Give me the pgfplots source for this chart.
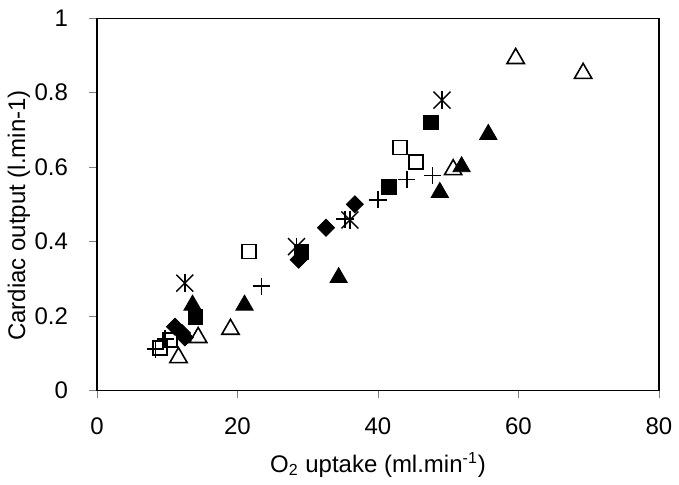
\documentclass[border=0pt]{standalone}
\usepackage{pgfplots}
\pgfplotsset{compat=1.18}
\usepackage{fontspec}
\setmainfont{Liberation Sans}
\begin{document}
\begin{tikzpicture}
\begin{axis}[
    scale only axis,
    width=281pt, height=186pt,
    xmin=0, xmax=80, ymin=0, ymax=1,
    xtick={0,20,40,60,80},
    ytick={0,0.2,0.4,0.6,0.8,1},
    xtick pos=lower, ytick pos=left,
    tick align=outside,
    major tick length=4pt,
    tick style={gray, line width=0.4pt},
    axis line style={line width=0.75pt},
    font=\fontsize{12}{14}\selectfont,
    /pgf/number format/assume math mode=true,
    xticklabel style={yshift=-6pt},
    yticklabel style={xshift=-7pt},
    xlabel={O\textsubscript{2} uptake (ml.min\textsuperscript{-1})},
    ylabel={Cardiac output (l.min-1)},
    xlabel style={at={(axis description cs:0.5,-0.2)}, anchor=center},
    ylabel style={at={(axis description cs:-0.139,0.47)}, anchor=center},
    clip=false,
]
% filled diamonds
\addplot[only marks, mark=square*, mark size=3pt, mark options={rotate=45, fill=black, draw=black}] coordinates {
    (11.1,0.171) (12.1,0.154) (12.5,0.142) (28.7,0.351) (32.6,0.437) (36.7,0.500)
};
% filled squares
\addplot[only marks, mark=square*, mark size=3.7pt, mark options={fill=black, draw=black}] coordinates {
    (14.0,0.198) (29.1,0.373) (41.6,0.546) (47.5,0.720)
};
% filled triangles
\addplot[only marks, mark=triangle*, mark size=5pt, mark options={fill=black, draw=black, yshift=-1.3pt}] coordinates {
    (13.6,0.236) (21.0,0.236) (34.4,0.310) (48.8,0.539) (51.9,0.608) (55.7,0.695)
};
% open squares
\addplot[only marks, mark=square, mark size=3.5pt, mark options={draw=black, fill=white, line width=0.8pt}] coordinates {
    (9.0,0.113) (10.4,0.136) (21.6,0.373) (43.1,0.653) (45.4,0.613)
};
% open triangles
\addplot[only marks, mark=triangle, mark size=5pt, mark options={draw=black, fill=white, line width=0.8pt, yshift=-1.3pt}] coordinates {
    (11.6,0.095) (14.4,0.149) (19.0,0.171) (50.7,0.600) (59.6,0.899) (69.2,0.859)
};
% plus
\addplot[only marks, mark=+, mark size=4.3pt, mark options={draw=black, line width=0.7pt}] coordinates {
    (8.3,0.111) (9.7,0.138) (23.4,0.280) (35.3,0.460) (40.0,0.512) (44.1,0.566) (47.8,0.577)
};
% stars (x with vertical bar)
\addplot[only marks, mark=x, mark size=6pt, mark options={draw=black, line width=0.7pt}] coordinates {
    (12.5,0.288) (28.4,0.386) (36.0,0.458) (49.1,0.780)
};
\addplot[only marks, mark=|, mark size=4.5pt, mark options={draw=black, line width=0.7pt}] coordinates {
    (12.5,0.288) (28.4,0.386) (36.0,0.458) (49.1,0.780)
};
\path (rel axis cs:-0.1726,-0.2539) rectangle (rel axis cs:1.0356,1.0492);
\end{axis}
\end{tikzpicture}
\end{document}
